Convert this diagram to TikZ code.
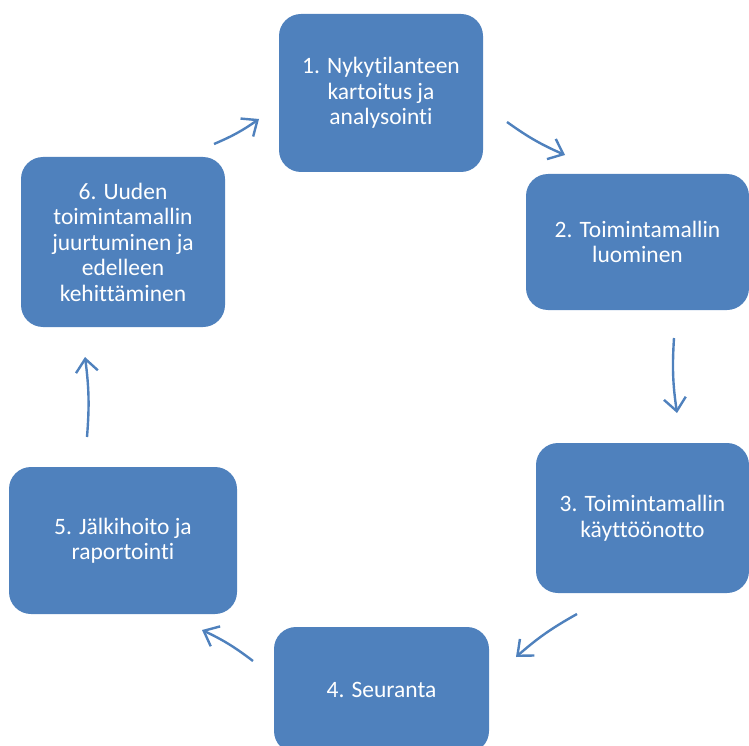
\documentclass[tikz,border=0pt]{standalone}
\usepackage{fontspec}
\setmainfont{Carlito}[Ligatures=NoCommon]
\usetikzlibrary{arrows.meta}
\definecolor{vaihe}{HTML}{4F81BD}
\begin{document}
\begin{tikzpicture}[x=1pt,y=-1pt,
  laatikko/.style={fill=vaihe,rounded corners=22pt,text=white,align=center,
    font=\fontsize{23.5}{25.5}\selectfont,inner sep=0pt},
  kierto/.style={draw=vaihe,line width=2.4pt,
    -{Straight Barb[length=13pt,width=22pt,line width=2.4pt]}}]
  \useasboundingbox (0,0) rectangle (749,746);

  % vaiheet
  \node[laatikko,minimum width=204pt,minimum height=158pt] (v1) at (381,93)
    {1. Nykytilanteen\\kartoitus ja\\analysointi};
  \node[laatikko,minimum width=223pt,minimum height=136pt] (v2) at (637.5,242)
    {2. Toimintamallin\\luominen};
  \node[laatikko,minimum width=213pt,minimum height=150pt] (v3) at (642.5,518)
    {3. Toimintamallin\\käyttöönotto};
  \node[laatikko,minimum width=215pt,minimum height=126pt] (v4) at (381.5,690)
    {4. Seuranta};
  \node[laatikko,minimum width=228pt,minimum height=147pt] (v5) at (123,540.5)
    {5. Jälkihoito ja\\raportointi};
  \node[laatikko,minimum width=204pt,minimum height=170pt] (v6) at (123,242)
    {6. Uuden\\toimintamallin\\juurtuminen ja\\edelleen\\kehittäminen};

  % nuolten päät
  \coordinate (n1a) at (507,122);
  \coordinate (n1b) at (565,155);
  \coordinate (n2a) at (674,338);
  \coordinate (n2b) at (677,413);
  \coordinate (n3a) at (577,614);
  \coordinate (n3b) at (516,657);
  \coordinate (n4a) at (253,661);
  \coordinate (n4b) at (202,630);
  \coordinate (n5a) at (87,437);
  \coordinate (n5b) at (85,357);
  \coordinate (n6a) at (214,144);
  \coordinate (n6b) at (259,119);

  % nuolet
  \draw[kierto] (n1a) to[bend right=6] (n1b);
  \draw[kierto] (n2a) to[bend right=6] (n2b);
  \draw[kierto] (n3a) to[bend right=6] (n3b);
  \draw[kierto] (n4a) to[bend right=6] (n4b);
  \draw[kierto] (n5a) to[bend right=6] (n5b);
  \draw[kierto] (n6a) to[bend right=6] (n6b);
\end{tikzpicture}
\end{document}
